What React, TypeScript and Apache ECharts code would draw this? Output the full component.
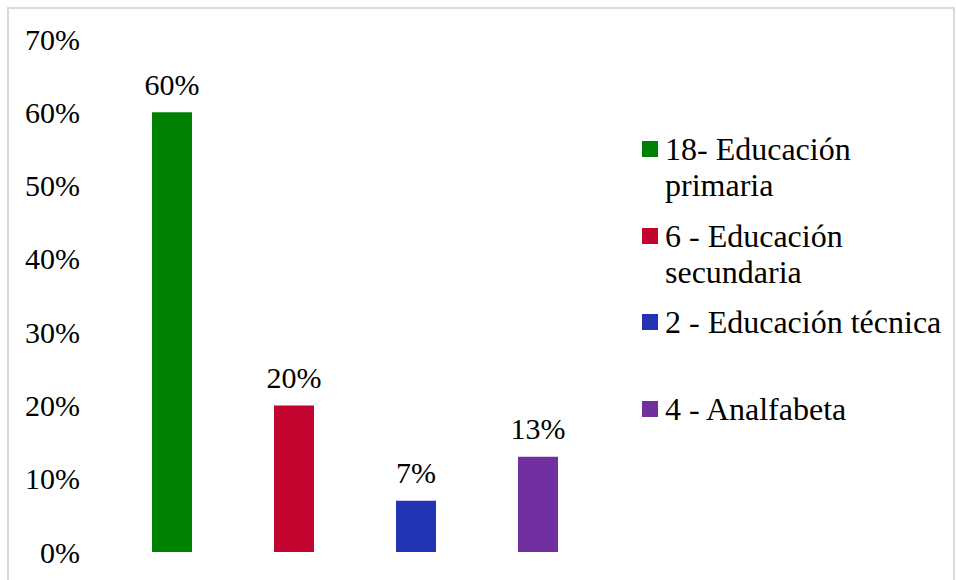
import React, { useEffect, useRef } from "react";
import * as echarts from "echarts";

const categories = [
  "18- Educación primaria",
  "6 - Educación secundaria",
  "2 - Educación técnica",
  "4 - Analfabeta",
];
const legendLabels = [
  "18- Educación\nprimaria",
  "6 - Educación\nsecundaria",
  "2 - Educación técnica",
  "4 - Analfabeta",
];
const values = [60, 20, 7, 13];
const yTicks = [0, 10, 20, 30, 40, 50, 60, 70];

const colors = ["#008000", "#C3042F", "#2233B4", "#7030A0"];
const FONT = "Liberation Serif";

export default function App() {
  const ref = useRef<HTMLDivElement>(null);
  useEffect(() => {
    if (!ref.current) return;
    const chart = echarts.init(ref.current, null, { renderer: "svg" });
    const twoLine = "path://M0,0H16V16H0ZM18,52L18,52";
    const oneLine = "path://M0,0L0,0M0,18H16V34H0ZM18,52L18,52";
    const legendTops = [131, 218, 296, 383];
    const series = categories.map((name, i) => ({
      name,
      type: "bar",
      stack: "total",
      barWidth: 40,
      itemStyle: { color: colors[i] },
      data: categories.map((_, j) => (j === i ? values[i] : "-")),
      label: {
        show: true,
        position: "top",
        distance: 13,
        formatter: "{c}%",
        color: "#000",
        fontFamily: FONT,
        fontSize: 30,
      },
    }));
    const legends = categories.map((name, i) => ({
      show: true,
      orient: "vertical",
      left: 642,
      top: legendTops[i],
      padding: 0,
      itemWidth: 18,
      itemHeight: 52,
      selectedMode: false,
      data: [{ name, icon: legendLabels[i].includes("\n") ? twoLine : oneLine }],
      formatter: () => legendLabels[i],
      textStyle: {
        fontFamily: FONT,
        fontSize: 32,
        lineHeight: 36,
        color: "#000",
      },
    }));
    chart.setOption({
      animation: false,
      backgroundColor: "#fff",
      textStyle: { fontFamily: FONT },
      grid: { left: 111, right: 357, top: 39, bottom: 28 },
      legend: legends,
      xAxis: {
        type: "category",
        data: categories,
        axisLine: { show: false },
        axisTick: { show: false },
        axisLabel: { show: false },
        splitLine: { show: false },
      },
      yAxis: {
        type: "value",
        min: yTicks[0],
        max: yTicks[yTicks.length - 1],
        interval: 10,
        axisLine: { show: false },
        axisTick: { show: false },
        splitLine: { show: false },
        axisLabel: {
          formatter: "{value}%",
          margin: 31,
          color: "#000",
          fontFamily: FONT,
          fontSize: 30,
        },
      },
      graphic: [
        {
          type: "rect",
          shape: { x: 8, y: 8, width: 946, height: 600 },
          style: { fill: "none", stroke: "#d9d9d9", lineWidth: 2 },
          silent: true,
        },
      ],
      series,
    });
    return () => chart.dispose();
  }, []);
  return (
    <div
      ref={ref}
      style={{ position: "absolute", left: 0, top: 0, width: 956, height: 580 }}
    />
  );
}
